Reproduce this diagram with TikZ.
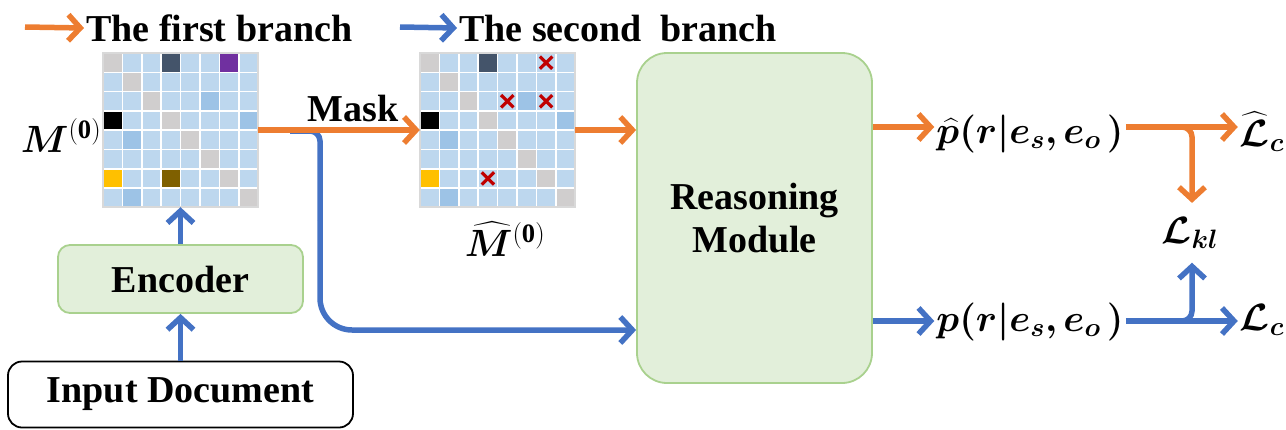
\RequirePackage{fix-cm}
\documentclass[tikz,border=0pt]{standalone}
\usepackage{amsmath,bm}
\usepackage{fontspec}
\setmainfont{Liberation Serif}
\usetikzlibrary{arrows.meta}
\definecolor{ora}{HTML}{ED7D31}
\definecolor{blu}{HTML}{4472C4}
\definecolor{gfill}{HTML}{E2EFDA}
\definecolor{gdraw}{HTML}{A9D18E}
\definecolor{lb}{HTML}{BDD7EE}
\definecolor{mb}{HTML}{9DC3E6}
\definecolor{gr}{HTML}{D0CECE}
\definecolor{ds}{HTML}{44546A}
\definecolor{pu}{HTML}{7030A0}
\definecolor{ye}{HTML}{FFC000}
\definecolor{bn}{HTML}{7F6000}
\definecolor{xr}{HTML}{C00000}
\tikzset{
  every node/.style={font=\fontsize{38}{43}\selectfont\bfseries, inner sep=2pt},
  arr/.style={line width=5.5pt, -{Straight Barb[length=12pt,width=26pt]}},
  oarr/.style={arr, draw=ora},
  barr/.style={arr, draw=blu},
  bline/.style={line width=5.5pt, draw=blu},
  gbox/.style={draw=gdraw, fill=gfill, line width=1.8pt, rounded corners=12pt},
  cellst/.style={draw=white, line width=1.6pt},
  gridframe/.style={draw=black!15, line width=1.5pt},
  xmark/.style={draw=xr, line width=3.2pt},
}
\newcommand\drawgrid[2]{%
  \foreach \c [count=\i from 0] in {#2}{%
    \pgfmathtruncatemacro\mc{mod(\i,8)}%
    \pgfmathtruncatemacro\mr{\i/8}%
    \fill[\c, cellst] ({#1+\mc*19.4},{53+\mr*19.3}) rectangle ++(19.4,19.3);
  }%
}
\begin{document}
\begin{tikzpicture}[x=1pt,y=-1pt]
\useasboundingbox (0,0) rectangle (1286,429);

% legend
\coordinate (lo) at (25,27);
\node[anchor=west] (t1) at (84,28) {The first branch};
\draw[oarr] (lo) -- (t1.west);
\coordinate (lb0) at (400,27);
\node[anchor=west] (t2) at (457,28) {The second\ \ branch};
\draw[barr] (lb0) -- (t2.west);

% matrices
\node[inner sep=0, minimum width=155pt, minimum height=154pt] (m1) at (180.5,130) {};
\drawgrid{103}{gr,lb,lb,ds,lb,lb,pu,lb,lb,gr,lb,lb,lb,lb,lb,lb,lb,lb,gr,lb,lb,mb,lb,lb,black,lb,lb,gr,lb,lb,lb,mb,lb,mb,lb,lb,gr,lb,lb,lb,lb,lb,lb,lb,lb,gr,lb,lb,ye,lb,lb,bn,lb,lb,gr,lb,lb,mb,lb,lb,lb,lb,lb,gr}
\draw[gridframe] (m1.north west) rectangle (m1.south east);

\node[inner sep=0, minimum width=155pt, minimum height=154pt] (m2) at (497.5,130) {};
\drawgrid{420}{gr,lb,lb,ds,lb,lb,lb,lb,lb,gr,lb,lb,lb,lb,lb,lb,lb,lb,gr,lb,lb,mb,lb,lb,black,lb,lb,gr,lb,lb,lb,mb,lb,mb,lb,lb,gr,lb,lb,lb,lb,lb,lb,lb,lb,gr,lb,lb,ye,lb,lb,lb,lb,lb,gr,lb,lb,mb,lb,lb,lb,lb,lb,gr}
\draw[gridframe] (m2.north west) rectangle (m2.south east);
\foreach \mc/\mr in {6/0,4/2,6/2,3/6}{
  \draw[xmark] ({420+\mc*19.4+3.5},{53+\mr*19.3+3.5}) -- ++(12.4,12.3);
  \draw[xmark] ({420+\mc*19.4+3.5},{53+\mr*19.3+15.8}) -- ++(12.4,-12.3);
}

\node[anchor=base] (ml) at (61,152) {$\bm{M}^{\mathbf{(0)}}$};
\node[anchor=base] (mhl) at (505,256) {$\widehat{\bm{M}}^{\mathbf{(0)}}$};
\node (mask) at (353,108) {Mask};

% boxes
\node[gbox, rounded corners=30pt, minimum width=235pt, minimum height=330pt, align=center] (rm) at (754.5,218) {Reasoning\\Module};
\node[gbox, minimum width=245pt, minimum height=68pt] (enc) at (180.5,279) {Encoder};
\node[draw=black, line width=1.8pt, rounded corners=14pt, minimum width=345pt, minimum height=66pt] (inp) at (180.5,394.5) {Input Document};

% left connectors
\draw[barr] (inp.north) -- (enc.south);
\draw[barr] (enc.north) -- (m1.south);
\coordinate (bs) at (290,131);
\coordinate (bc) at (320,131);
\coordinate (bm) at (320,220);
\coordinate (bd) at (320,330);
\draw[bline, rounded corners=10pt] (bs) -- (bc) -- (bm);
\draw[barr, rounded corners=32pt] (bm) -- (bd) -- (rm.west |- bd);
\draw[oarr] (m1.east) -- (m2.west);
\draw[oarr] (m2.east) -- (m2.east -| rm.west);

% right side
\node[anchor=base] (ph) at (1030,143) {$\bm{\widehat{p}(r|e_s,e_o\,)}$};
\node[anchor=base] (pp) at (1030,331) {$\bm{p(r|e_s,e_o\,)}$};
\node[anchor=base] (lhc) at (1262,146) {$\bm{\widehat{\mathcal{L}}_c}$};
\node[anchor=base] (lc) at (1262,330) {$\bm{\mathcal{L}_c}$};
\node[anchor=base, outer sep=12pt] (lkl) at (1190,243) {$\bm{\mathcal{L}_{kl}}$};

\coordinate (oy) at (0,127);
\coordinate (by) at (0,321);
\coordinate (jo0) at (1170,127);
\coordinate (jo) at (1192,127);
\coordinate (jb0) at (1170,321);
\coordinate (jb) at (1192,321);
\draw[oarr] (rm.east |- oy) -- (ph.west |- oy);
\draw[barr] (rm.east |- by) -- (pp.west |- by);
\draw[oarr, rounded corners=10pt] (jo0) -- (jo) -- (lkl.north -| jo);
\draw[barr, rounded corners=10pt] (jb0) -- (jb) -- (lkl.south -| jb);
\draw[oarr] (ph.east |- oy) -- (lhc.west |- oy);
\draw[barr] (pp.east |- by) -- (lc.west |- by);
\end{tikzpicture}
\end{document}
